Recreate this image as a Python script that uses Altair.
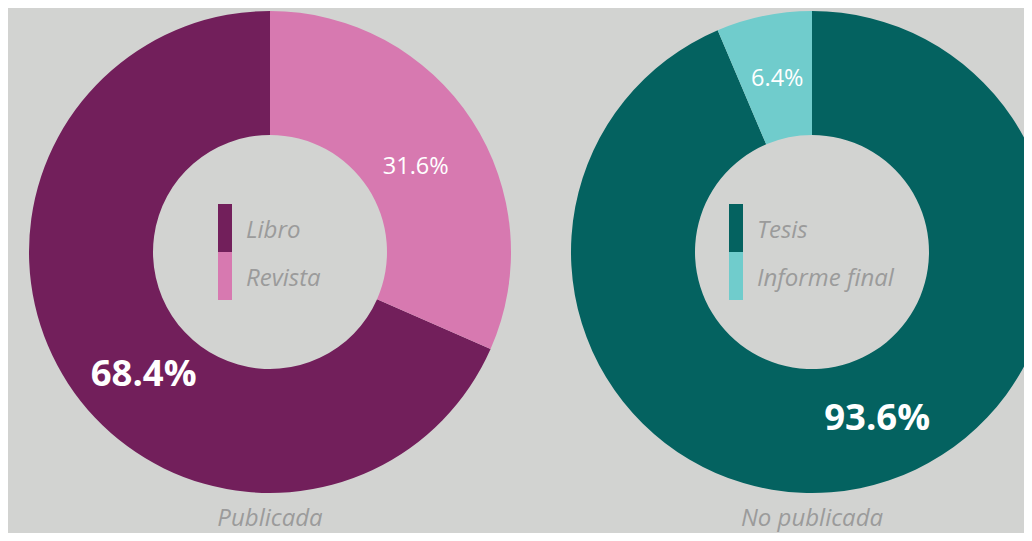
import altair as alt
import pandas as pd

# ---- data ----
donuts = ["Publicada", "No publicada"]
cats_pub = ["Libro", "Revista"]
vals_pub = [68.4, 31.6]
cats_nopub = ["Tesis", "Informe final"]
vals_nopub = [93.6, 6.4]
colors_pub = ["#721f5b", "#d779b0"]
colors_nopub = ["#046260", "#70cccc"]
# drawing order clockwise from 12 o'clock
order_pub = [1, 0]
order_nopub = [0, 1]

# ---- styling / layout ----
BG = "#d2d3d1"
GRAY = "#9b9b9b"
FONT = "Open Sans"
W, H = 1016, 525
CY = 244
CX = [262, 804]
R_OUT, R_IN = 241, 117
SYM_PATH = "M0.4167,-1.125H1V0.875H0.4167Z"
LEG_POS = [(176, 199), (687, 199)]
SMALL_OFF = [(0, 10), (0, -3)]
BIG_OFF = [(21, 27), (30, -5)]
TITLE_Y = 518


def donut_df(name, cats, vals, order):
    return pd.DataFrame({
        "donut": name,
        "cat": cats,
        "value": vals,
        "ord": order,
        "label": [f"{v:.1f}%" for v in vals],
        "big": [v == max(vals) for v in vals],
    })


frames = [
    donut_df(donuts[0], cats_pub, vals_pub, order_pub),
    donut_df(donuts[1], cats_nopub, vals_nopub, order_nopub),
]
cats_all = [cats_pub, cats_nopub]
cols_all = [colors_pub, colors_nopub]

layers = []
for i, df in enumerate(frames):
    cx = CX[i]
    lx, ly = LEG_POS[i]
    arc = alt.Chart(df).mark_arc(radius=R_OUT, radius2=R_IN).encode(
        theta=alt.Theta("value:Q", stack=True, scale=alt.Scale(domain=[0, 100])),
        color=alt.Color(
            "cat:N",
            scale=alt.Scale(domain=cats_all[i], range=cols_all[i]),
            legend=alt.Legend(
                orient="none", legendX=lx, legendY=ly, title=None,
                symbolType=SYM_PATH, symbolSize=2304, symbolStrokeWidth=0,
                symbolOpacity=1, labelFont=FONT, labelFontSize=24,
                labelFontStyle="italic", labelColor=GRAY, labelOffset=14,
                rowPadding=0, padding=0,
            ),
        ),
        order=alt.Order("ord:Q"),
        x=alt.value(cx),
        y=alt.value(CY),
    )
    layers.append(arc)

    base = alt.Chart(df).transform_window(
        cum="sum(value)", sort=[alt.SortField("ord")], frame=[None, 0]
    ).transform_calculate(mid="datum.cum - datum.value / 2")

    sdx, sdy = SMALL_OFF[i]
    small = base.transform_filter("!datum.big").mark_text(
        radius=174, font=FONT, fontSize=23.5, color="white", dx=sdx, dy=sdy,
    ).encode(
        theta=alt.Theta("mid:Q", stack=None),
        text="label:N",
        x=alt.value(cx),
        y=alt.value(CY),
    )
    dx, dy = BIG_OFF[i]
    big = base.transform_filter("datum.big").mark_text(
        radius=176, font=FONT, fontSize=36.5, fontWeight="bold", color="white",
        dx=dx, dy=dy,
    ).encode(
        theta=alt.Theta("mid:Q", stack=None),
        text="label:N",
        x=alt.value(cx),
        y=alt.value(CY),
    )
    title = alt.Chart(pd.DataFrame({"t": [donuts[i]]})).mark_text(
        font=FONT, fontSize=24, fontStyle="italic", color=GRAY,
        baseline="alphabetic", align="center",
    ).encode(text="t:N", x=alt.value(cx), y=alt.value(TITLE_Y))
    layers += [small, big, title]

chart = alt.layer(*layers).resolve_scale(color="independent").properties(
    width=W, height=H, background=BG, padding=0,
    autosize=alt.AutoSizeParams(type="none"),
).configure_view(stroke=None)

chart.save("out.html", embed_options={"renderer": "svg", "actions": False})
